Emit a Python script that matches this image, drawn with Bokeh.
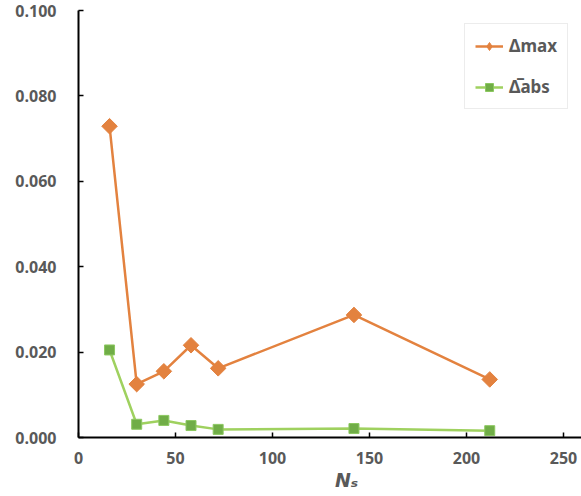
import math
from bokeh.plotting import figure
from bokeh.models import (Range1d, FixedTicker, NumeralTickFormatter, Legend, LegendItem)
from bokeh.embed import file_html
from bokeh.resources import INLINE

ns = [16, 30, 44, 58, 72, 142, 212]
delta_max = [0.0729, 0.0125, 0.0155, 0.0216, 0.0162, 0.0287, 0.0136]
delta_abs = [0.0205, 0.0031, 0.0040, 0.0028, 0.0019, 0.0021, 0.0016]
x_ticks = [0, 50, 100, 150, 200, 250]
y_ticks = [0.0, 0.02, 0.04, 0.06, 0.08, 0.10]

FONT = "Open Sans"
GRAY = "#595959"
ORANGE = "#E3823F"

p = figure(width=581, height=496, output_backend="svg", toolbar_location=None,
           x_range=Range1d(0, 259.3), y_range=Range1d(0, 0.1),
           min_border_left=78, min_border_right=0, min_border_top=10, min_border_bottom=59)
p.outline_line_color = None
p.xgrid.visible = False
p.ygrid.visible = False

for ax in (p.xaxis[0], p.yaxis[0]):
    ax.axis_line_color = "black"
    ax.axis_line_width = 2
    ax.major_tick_line_color = "black"
    ax.major_tick_line_width = 1.5
    ax.major_tick_in = 5
    ax.major_tick_out = 0
    ax.minor_tick_line_color = None
    ax.major_label_text_font = FONT
    ax.major_label_text_font_style = "bold"
    ax.major_label_text_font_size = "16px"
    ax.major_label_text_color = GRAY

p.xaxis.ticker = FixedTicker(ticks=x_ticks)
p.yaxis.ticker = FixedTicker(ticks=y_ticks)
p.yaxis.formatter = NumeralTickFormatter(format="0.000")
p.yaxis.major_label_standoff = 22
p.xaxis.major_label_standoff = 14

p.xaxis.axis_label = "\u00a0\u00a0\u00a0\u00a0\u00a0N\u209b"
p.xaxis.axis_label_text_font = "DejaVu Sans"
p.xaxis.axis_label_text_font_style = "bold italic"
p.xaxis.axis_label_text_font_size = "19px"
p.xaxis.axis_label_text_color = GRAY
p.xaxis.axis_label_standoff = 2

l1 = p.line(ns, delta_max, line_color=ORANGE, line_width=2.5)
d1 = p.scatter(ns, delta_max, marker="diamond", size=13, fill_color=ORANGE, line_color=ORANGE)
s1 = p.scatter(ns, delta_max, marker="square", size=11, angle=math.pi / 4,
               fill_color=ORANGE, line_color=ORANGE)
l2 = p.line(ns, delta_abs, line_color="#9FD15F", line_width=2.5)
s2 = p.scatter(ns, delta_abs, marker="square", size=10, fill_color="#70AD47", line_color="#8CC860")

legend = Legend(items=[LegendItem(label="Δmax", renderers=[l1, d1]),
                       LegendItem(label="Δ\u0305abs", renderers=[l2, s2])],
                location="top_right")
legend.label_text_font = "Noto Sans"
legend.label_text_font_style = "bold"
legend.label_text_font_size = "17px"
legend.label_text_color = GRAY
legend.border_line_color = "#D9D9D9"
legend.border_line_width = 1
legend.glyph_width = 28
legend.glyph_height = 20
legend.spacing = 18
legend.padding = 10
legend.margin = 13
legend.label_standoff = 6
p.add_layout(legend, "center")

open("out.html", "w").write(file_html(p, INLINE))
